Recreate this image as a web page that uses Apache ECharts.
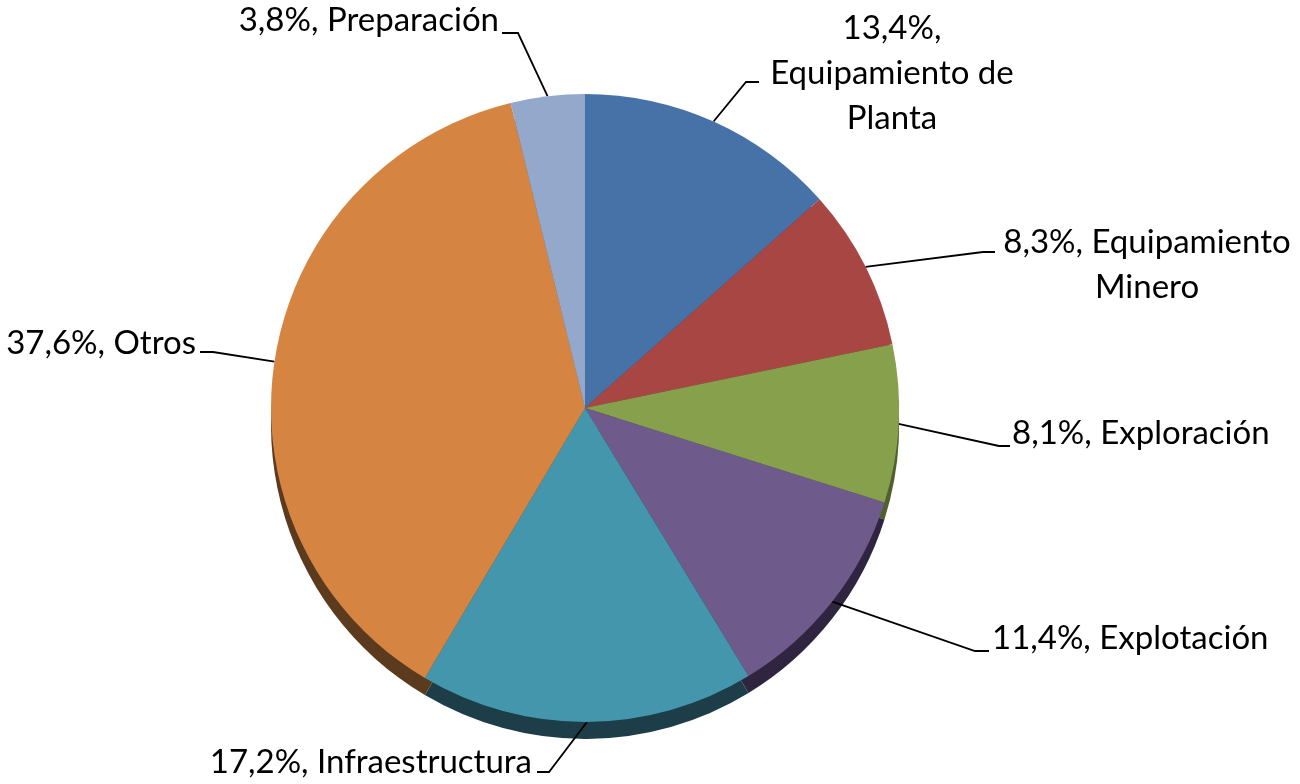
<!DOCTYPE html>
<html>
<head>
<meta charset="utf-8">
<script src="https://cdn.jsdelivr.net/npm/echarts@6/dist/echarts.min.js"></script>
<style>
  html, body { margin: 0; padding: 0; background: #fff; }
  #chart { width: 1300px; height: 784px; }
</style>
</head>
<body>
<div id="chart"></div>
<script>
// data
var categories = ['Equipamiento de Planta', 'Equipamiento Minero', 'Exploración', 'Explotación', 'Infraestructura', 'Otros', 'Preparación'];
var values = [13.4, 8.3, 8.1, 11.4, 17.2, 37.6, 3.8];
var labelTexts = ['13,4%,\nEquipamiento de\nPlanta', '8,3%, Equipamiento\nMinero', '8,1%, Exploración', '11,4%, Explotación', '17,2%, Infraestructura', '37,6%, Otros', '3,8%, Preparación'];

var topColors = ['#4672a8', '#a84644', '#86a04c', '#6f5a8c', '#4396ac', '#d68442', '#93a8cb'];
var sideColors = ['#2a4466', '#652a29', '#50602e', '#2f2540', '#1d3d48', '#5c3a1e', '#58657a'];

// where each label sits and how its leader line bends
var labelPos = [
    { x: 892, y: 73, align: 'center', elbow: [746, 82], end: [759, 82] },
    { x: 1147, y: 265, align: 'center', elbow: [983, 252], end: [995, 252] },
    { x: 1012, y: 433, align: 'left', elbow: [999, 446], end: [1010, 446] },
    { x: 992, y: 638, align: 'left', elbow: [975, 651], end: [989, 651] },
    { x: 532, y: 762, align: 'right', elbow: [549, 772], end: [537, 772] },
    { x: 196, y: 343, align: 'right', elbow: [213, 352], end: [200, 352] },
    { x: 499, y: 20, align: 'right', elbow: [518, 33], end: [502, 33] }
];

var myChart = echarts.init(document.getElementById('chart'));

function buildData(colors) {
    var out = [];
    for (var i = 0; i < categories.length; i++) {
        out.push({
            name: categories[i],
            value: values[i],
            itemStyle: { color: colors[i] }
        });
    }
    return out;
}

var option = {
    backgroundColor: '#ffffff',
    animation: false,
    series: [
        {
            // side of the "3d" pie
            name: 'lado',
            type: 'pie',
            silent: true,
            z: 1,
            center: [585, 425],
            radius: 314,
            startAngle: 90,
            clockwise: true,
            label: { show: false },
            labelLine: { show: false },
            data: buildData(sideColors)
        },
        {
            name: 'Inversión',
            type: 'pie',
            z: 2,
            center: [585, 408],
            radius: 314,
            startAngle: 90,
            clockwise: true,
            itemStyle: { borderWidth: 0 },
            label: {
                show: true,
                formatter: function (p) { return labelTexts[p.dataIndex]; },
                fontFamily: 'Lato',
                fontSize: 33,
                lineHeight: 45,
                color: '#000'
            },
            labelLine: {
                show: true,
                lineStyle: { color: '#000', width: 1.8 }
            },
            labelLayout: function (params) {
                var p = labelPos[params.dataIndex];
                var pts = params.labelLinePoints;
                var start = pts && pts[0] ? pts[0] : p.elbow;
                return {
                    x: p.x,
                    y: p.y,
                    align: p.align,
                    verticalAlign: 'middle',
                    labelLinePoints: [start, p.elbow, p.end]
                };
            },
            data: buildData(topColors)
        }
    ]
};

myChart.setOption(option);
window.onresize = function () {
    myChart.resize();
};
</script>
</body>
</html>
